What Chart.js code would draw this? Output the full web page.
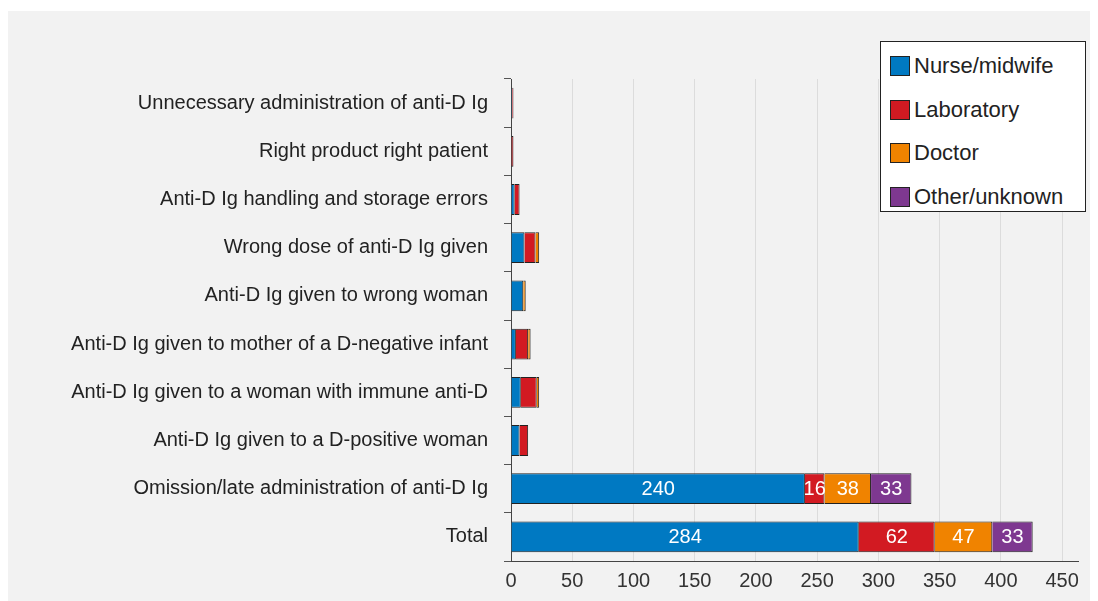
<!DOCTYPE html>
<html>
<head>
<meta charset="utf-8">
<script src="https://cdn.jsdelivr.net/npm/chart.js@4"></script>
<style>
  body { margin: 0; background: #fff; width: 1098px; height: 601px; overflow: hidden; font-family: "Liberation Sans", Arial, sans-serif; }
  .panel { position: absolute; left: 8px; top: 11px; width: 1082px; height: 590px; background: #f2f2f2; }
  .legend { position: absolute; left: 880px; top: 41px; width: 204px; height: 169px; background: #fff; border: 1px solid #222; }
  .legend .item { position: absolute; left: 9px; height: 24px; font-size: 22px; color: #222; line-height: 24px; white-space: nowrap; }
  .legend .swatch { display: inline-block; width: 18px; height: 18px; border: 1px solid #222; vertical-align: -3px; margin-right: 4px; }
</style>
</head>
<body>
<div class="panel">
  <canvas id="chart" width="1082" height="590"></canvas>
</div>
<div class="legend" id="legend"></div>
<script>
const categories = [
    'Unnecessary administration of anti-D Ig',
    'Right product right patient',
    'Anti-D Ig handling and storage errors',
    'Wrong dose of anti-D Ig given',
    'Anti-D Ig given to wrong woman',
    'Anti-D Ig given to mother of a D-negative infant',
    'Anti-D Ig given to a woman with immune anti-D',
    'Anti-D Ig given to a D-positive woman',
    'Omission/late administration of anti-D Ig',
    'Total'
];
const seriesNames = ['Nurse/midwife', 'Laboratory', 'Doctor', 'Other/unknown'];
const nurse  = [1, 0, 3, 11, 10, 4, 8, 7, 240, 284];
const lab    = [1, 2, 4, 9, 0, 10, 13, 7, 16, 62];
const doctor = [0, 0, 0, 3, 2, 2, 2, 0, 38, 47];
const other  = [0, 0, 0, 0, 0, 0, 0, 0, 33, 33];
const xTicks = [0, 50, 100, 150, 200, 250, 300, 350, 400, 450];

const colors = ['#0079c2', '#d21a22', '#f08300', '#7e3890'];
const values = [nurse, lab, doctor, other];

// segment labels, only on the wide bars
const barLabels = {
    id: 'barLabels',
    afterDatasetsDraw(chart) {
        const ctx = chart.ctx;
        ctx.save();
        ctx.font = '20px "Liberation Sans", Arial, sans-serif';
        ctx.fillStyle = '#fff';
        ctx.textAlign = 'center';
        ctx.textBaseline = 'middle';
        chart.data.datasets.forEach((ds, i) => {
            chart.getDatasetMeta(i).data.forEach((bar, j) => {
                if (ds.data[j] >= 15) {
                    const cx = (bar.x + bar.base) / 2;
                    ctx.fillText(String(ds.data[j]), cx, bar.y + 1);
                }
            });
        });
        ctx.restore();
    }
};

const ctx = document.getElementById('chart').getContext('2d');
new Chart(ctx, {
    type: 'bar',
    data: {
        labels: categories,
        datasets: seriesNames.map((name, i) => ({
            label: name,
            data: values[i],
            backgroundColor: colors[i],
            borderColor: '#222',
            borderWidth: 1,
            barPercentage: 0.64,
            categoryPercentage: 1
        }))
    },
    options: {
        indexAxis: 'y',
        responsive: false,
        animation: false,
        layout: { padding: { top: 68, right: 12, bottom: 0, left: 0 } },
        plugins: {
            legend: { display: false },
            tooltip: { enabled: false }
        },
        scales: {
            x: {
                stacked: true,
                min: 0,
                max: 463,
                afterBuildTicks(scale) {
                    scale.ticks = xTicks.map(v => ({ value: v }));
                },
                afterFit(scale) { scale.height = 40; },
                grid: { color: '#dcdcdc', drawTicks: false },
                border: { color: '#444', width: 1 },
                ticks: {
                    color: '#333',
                    padding: 8,
                    font: { family: '"Liberation Sans", Arial, sans-serif', size: 20 }
                }
            },
            y: {
                stacked: true,
                afterFit(scale) { scale.width = 503; },
                grid: { offset: true, drawOnChartArea: false, tickLength: 7, color: '#555' },
                border: { color: '#444', width: 1 },
                ticks: {
                    color: '#222',
                    padding: 16,
                    font: { family: '"Liberation Sans", Arial, sans-serif', size: 20 }
                }
            }
        }
    },
    plugins: [barLabels]
});

// legend box
const legend = document.getElementById('legend');
seriesNames.forEach((name, i) => {
    const item = document.createElement('div');
    item.className = 'item';
    item.style.top = (12 + i * 43.5) + 'px';
    item.innerHTML = '<span class="swatch" style="background:' + colors[i] + '"></span>' + name;
    legend.appendChild(item);
});
</script>
</body>
</html>
